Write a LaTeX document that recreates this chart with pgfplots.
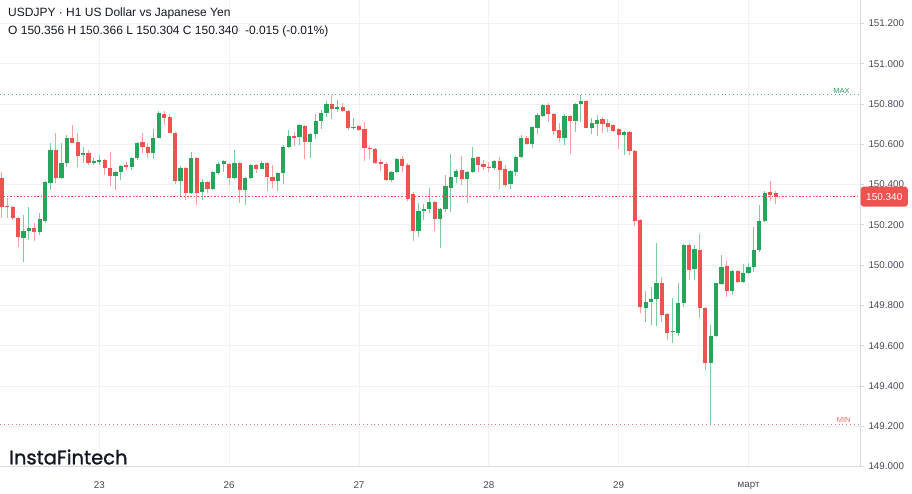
\documentclass[border=0pt]{standalone}
\usepackage{pgfplots}
\pgfplotsset{compat=1.18}
\usepackage{pgfplotstable}
\usepackage{fontspec}
\setmainfont{Liberation Sans}
\newfontfamily\logofont{Poppins}[FakeBold=1.2]
\definecolor{upc}{RGB}{38,166,91}
\definecolor{dnc}{RGB}{239,83,80}
\definecolor{gridc}{RGB}{238,241,245}
\definecolor{axc}{RGB}{214,219,225}
\definecolor{tickc}{RGB}{70,73,84}
\definecolor{titlec}{RGB}{19,23,34}

% up (bullish) candles: hour index h, open, high, low, close
\pgfplotstableread{
h O H L C
-14 150.136 150.249 150.017 150.171
-13 150.171 150.290 150.125 150.183
-11 150.166 150.259 150.150 150.228
-10 150.219 150.419 150.208 150.414
-9 150.406 150.605 150.373 150.572
-7 150.431 150.605 150.428 150.509
-6 150.506 150.646 150.486 150.633
-3 150.547 150.588 150.506 150.558
-1 150.506 150.530 150.498 150.517
0 150.514 150.547 150.498 150.522
3 150.443 150.466 150.373 150.464
4 150.464 150.497 150.423 150.492
6 150.486 150.538 150.472 150.533
7 150.530 150.613 150.522 150.608
10 150.558 150.674 150.525 150.633
11 150.633 150.767 150.630 150.754
15 150.419 150.492 150.337 150.481
17 150.357 150.563 150.353 150.533
19 150.362 150.426 150.323 150.414
21 150.378 150.467 150.373 150.464
22 150.459 150.513 150.448 150.502
23 150.502 150.522 150.464 150.517
25 150.431 150.572 150.426 150.509
27 150.373 150.436 150.299 150.431
28 150.431 150.502 150.426 150.497
30 150.477 150.519 150.476 150.509
33 150.419 150.461 150.368 150.456
34 150.456 150.596 150.403 150.588
35 150.585 150.671 150.580 150.641
37 150.635 150.701 150.596 150.696
39 150.613 150.654 150.530 150.651
40 150.649 150.749 150.626 150.715
41 150.715 150.770 150.676 150.754
42 150.754 150.815 150.737 150.798
44 150.773 150.820 150.762 150.783
47 150.679 150.729 150.671 150.687
54 150.423 150.467 150.411 150.461
55 150.461 150.533 150.456 150.527
59 150.171 150.307 150.141 150.270
60 150.269 150.304 150.224 150.279
61 150.279 150.381 150.257 150.315
63 150.229 150.282 150.084 150.279
64 150.279 150.448 150.265 150.393
65 150.384 150.550 150.265 150.439
66 150.439 150.477 150.406 150.467
68 150.426 150.467 150.307 150.464
69 150.461 150.588 150.456 150.533
73 150.481 150.522 150.472 150.517
76 150.401 150.472 150.378 150.467
77 150.464 150.543 150.444 150.538
78 150.538 150.646 150.533 150.630
80 150.601 150.692 150.580 150.687
81 150.682 150.754 150.649 150.745
82 150.742 150.798 150.737 150.795
86 150.633 150.749 150.596 150.740
88 150.715 150.803 150.662 150.800
89 150.800 150.846 150.709 150.815
91 150.679 150.729 150.649 150.704
92 150.701 150.745 150.642 150.720
97 150.646 150.666 150.547 150.662
101 149.789 149.872 149.716 149.819
102 149.819 149.890 149.703 149.832
103 149.831 150.111 149.698 149.913
106 149.668 149.836 149.615 149.675
107 149.665 149.913 149.648 149.811
108 149.811 150.105 149.794 150.100
110 149.979 150.100 149.926 150.079
113 149.513 149.703 149.210 149.648
114 149.648 149.913 149.645 149.910
115 149.907 150.050 149.902 149.992
117 149.873 149.976 149.852 149.971
119 149.915 150.006 149.913 149.960
120 149.960 150.009 149.956 149.989
121 149.989 150.188 149.968 150.075
122 150.075 150.299 150.067 150.221
123 150.221 150.370 150.216 150.360
}\up

% down (bearish) candles
\pgfplotstableread{
h O H L C
-18 150.431 150.461 150.233 150.290
-17 150.294 150.333 150.234 150.287
-16 150.287 150.294 150.225 150.233
-15 150.236 150.239 150.089 150.138
-12 150.183 150.208 150.121 150.166
-8 150.572 150.654 150.406 150.431
-5 150.633 150.696 150.605 150.608
-4 150.611 150.654 150.486 150.542
-2 150.558 150.572 150.498 150.506
1 150.522 150.526 150.448 150.481
2 150.481 150.563 150.393 150.443
5 150.497 150.513 150.472 150.486
8 150.610 150.657 150.555 150.585
9 150.585 150.605 150.530 150.558
12 150.750 150.767 150.696 150.729
13 150.734 150.750 150.654 150.657
14 150.657 150.660 150.403 150.419
16 150.481 150.486 150.323 150.357
18 150.533 150.538 150.299 150.357
20 150.414 150.419 150.357 150.378
24 150.502 150.507 150.398 150.431
26 150.509 150.513 150.307 150.373
29 150.497 150.502 150.459 150.477
31 150.506 150.511 150.368 150.439
32 150.439 150.497 150.384 150.419
36 150.641 150.663 150.593 150.633
38 150.692 150.696 150.527 150.613
43 150.798 150.843 150.725 150.775
45 150.783 150.803 150.759 150.765
46 150.765 150.770 150.671 150.682
48 150.691 150.696 150.666 150.671
49 150.674 150.709 150.517 150.580
50 150.583 150.593 150.527 150.575
51 150.577 150.580 150.501 150.506
52 150.513 150.527 150.467 150.501
53 150.504 150.513 150.419 150.423
56 150.527 150.543 150.461 150.492
57 150.497 150.506 150.318 150.330
58 150.355 150.365 150.120 150.171
62 150.315 150.318 150.170 150.229
67 150.472 150.543 150.398 150.426
70 150.538 150.543 150.461 150.497
71 150.504 150.522 150.472 150.487
72 150.489 150.511 150.461 150.484
74 150.519 150.538 150.378 150.472
75 150.477 150.497 150.389 150.398
79 150.630 150.641 150.596 150.601
83 150.795 150.803 150.709 150.749
84 150.749 150.754 150.646 150.666
85 150.671 150.704 150.613 150.633
87 150.740 150.745 150.550 150.715
90 150.815 150.820 150.679 150.682
93 150.724 150.737 150.654 150.699
94 150.704 150.726 150.662 150.687
95 150.696 150.699 150.662 150.667
96 150.676 150.682 150.577 150.646
98 150.662 150.666 150.547 150.567
99 150.568 150.572 150.196 150.219
100 150.224 150.227 149.761 149.794
104 149.913 149.940 149.719 149.753
105 149.758 149.761 149.629 149.665
109 150.100 150.111 149.926 149.976
111 150.075 150.155 149.736 149.786
112 149.786 149.794 149.480 149.516
116 149.996 150.022 149.843 149.873
118 149.971 149.976 149.913 149.918
124 150.362 150.419 150.320 150.348
125 150.356 150.366 150.304 150.340
}\down

\begin{document}
\begin{tikzpicture}
\useasboundingbox (0,0) rectangle (912pt,-494pt);
\begin{axis}[
  at={(0pt,0pt)}, anchor=north west,
  width=860pt, height=466.5pt, scale only axis,
  xmin=-18.35, xmax=140.6, ymin=149.0, ymax=151.316,
  axis x line*=bottom, axis y line*=right,
  axis line style={draw=axc, line width=0.8pt},
  clip mode=individual,
  xtick={0,24,48,72,96,120},
  xticklabels={23,26,27,28,29,март},
  ytick={149.0,149.2,149.4,149.6,149.8,150.0,150.2,150.4,150.6,150.8,151.0,151.2},
  yticklabels={149.000,149.200,149.400,149.600,149.800,150.000,150.200,150.400,150.600,150.800,151.000,151.200},
  grid=major,
  major grid style={draw=gridc, line width=0.8pt},
  tick align=outside,
  major tick length=4pt,
  ytick style={draw=axc, line width=0.8pt},
  xtick style={draw=none},
  ticklabel style={font=\fontsize{9.8}{11}\selectfont, text=tickc},
  yticklabel style={anchor=west, xshift=1pt},
  xticklabel style={anchor=center, yshift=-15pt},
]
% wicks
\addplot[draw=none, mark=none,
  error bars/.cd, y dir=plus, y explicit, error mark=none,
  error bar style={draw=upc!60!white, line width=1pt}]
  table[x=h, y=L, y error plus expr={\thisrow{H}-\thisrow{L}}] {\up};
\addplot[draw=none, mark=none,
  error bars/.cd, y dir=plus, y explicit, error mark=none,
  error bar style={draw=dnc!55!white, line width=1pt}]
  table[x=h, y=L, y error plus expr={\thisrow{H}-\thisrow{L}}] {\down};
% bodies
\addplot[draw=none, mark=none,
  error bars/.cd, y dir=plus, y explicit, error mark=none,
  error bar style={draw=upc, line width=4.2pt}]
  table[x=h, y=O, y error plus expr={max(\thisrow{C}-\thisrow{O},0.004)}] {\up};
\addplot[draw=none, mark=none,
  error bars/.cd, y dir=plus, y explicit, error mark=none,
  error bar style={draw=dnc, line width=4.2pt}]
  table[x=h, y=C, y error plus expr={max(\thisrow{O}-\thisrow{C},0.004)}] {\down};
% reference lines: max, min, last price
\addplot[upc!80!white, line width=0.9pt, dash pattern=on 0.9pt off 3pt] coordinates {(-18.35,150.846) (140.6,150.846)};
\addplot[dnc!80!white, line width=0.9pt, dash pattern=on 0.9pt off 3pt] coordinates {(-18.35,149.210) (140.6,149.210)};
\addplot[dnc, line width=0.8pt, dash pattern=on 1.6pt off 1.8pt] coordinates {(-18.35,150.340) (140.6,150.340)};
\node[anchor=south, inner sep=1.2pt, text=upc, font=\fontsize{7.5}{8}\selectfont] at (axis cs:137.2,150.846) {MAX};
\node[anchor=south, inner sep=1.2pt, text=dnc!85!white, font=\fontsize{7.5}{8}\selectfont] at (axis cs:137.6,149.210) {MIN};
\coordinate (pl) at (axis cs:140.6,150.340);
\end{axis}
\node[anchor=west, fill=dnc, text=white, rounded corners=3pt, inner xsep=5.5pt, minimum height=20pt, font=\fontsize{10}{11}\selectfont] at ([xshift=0.5pt]pl) {150.340};
\node[anchor=west, inner sep=0pt, text=titlec, font=\fontsize{12}{14}\selectfont] at (8pt,-13pt) {USDJPY · H1 US Dollar vs Japanese Yen};
\node[anchor=west, inner sep=0pt, text=titlec, font=\fontsize{12}{14}\selectfont] at (8pt,-31pt) {O 150.356 H 150.366 L 150.304 C 150.340\ \ -0.015 (-0.01\%)};
\node[anchor=west, inner sep=0pt, text=titlec, font=\logofont\fontsize{19.5}{21}\selectfont] at (9pt,-457pt) {InstaFintech};
\end{tikzpicture}
\end{document}
